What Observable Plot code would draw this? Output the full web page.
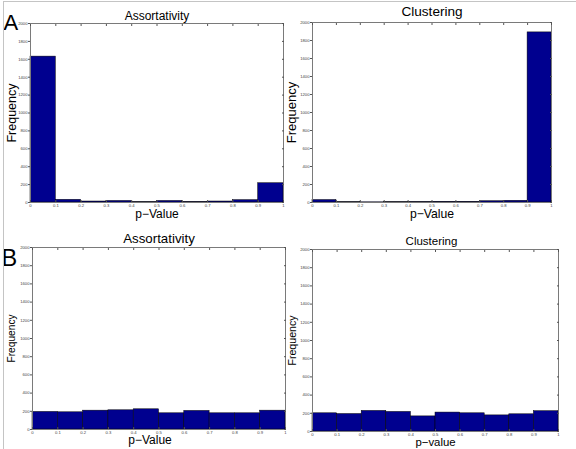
<!DOCTYPE html>
<html>
<head>
<meta charset="utf-8">
<script src="https://cdn.jsdelivr.net/npm/d3@7"></script>
<script src="https://cdn.jsdelivr.net/npm/@observablehq/plot@0.6"></script>
<style>
  html, body { margin: 0; padding: 0; background: #fff; }
  #fig { position: relative; width: 576px; height: 449px; overflow: hidden; background: #fff; }
  #fig > .panel { position: absolute; }
  #border { position: absolute; left: 3px; top: 1px; width: 580px; height: 460px;
            border-top: 1px solid #c4c4c4; border-left: 1px solid #c4c4c4; pointer-events: none; }
</style>
</head>
<body>
<div id="fig"></div>
<script>
// ---- data ----
const binLo = [0, 0.1, 0.2, 0.3, 0.4, 0.5, 0.6, 0.7, 0.8, 0.9];
const binHi = [0.1, 0.2, 0.3, 0.4, 0.5, 0.6, 0.7, 0.8, 0.9, 1];
const xTicks = [0, 0.1, 0.2, 0.3, 0.4, 0.5, 0.6, 0.7, 0.8, 0.9, 1];
const yTicks = [0, 200, 400, 600, 800, 1000, 1200, 1400, 1600, 1800, 2000];

const assortativityA = [1630, 30, 11, 17, 4, 17, 6, 11, 26, 215];
const clusteringA    = [27, 3, 2, 3, 5, 7, 7, 14, 19, 1890];
const assortativityB = [193, 189, 207, 211, 222, 178, 204, 178, 178, 207];
const clusteringB    = [200, 192, 226, 215, 166, 208, 200, 177, 189, 223];

const titles  = ["Assortativity", "Clustering", "Assortativity", "Clustering"];
const xLabels = ["p\u2212Value", "p\u2212Value", "p\u2212Value", "p\u2212value"];
const yLabel  = "Frequency";
const letters = ["A", "B"];

const FONT = "'Liberation Sans', Arial, Helvetica, sans-serif";
const BAR = "#00008f";

function panel(values, o) {
  const rows = values.map((v, i) => ({lo: binLo[i], hi: binHi[i], count: v}));
  const marks = [
    Plot.rectY(rows, {x1: "lo", x2: "hi", y: "count", fill: BAR, stroke: "#000", strokeWidth: 0.5}),
    Plot.frame({stroke: "#7a7a7a", strokeWidth: 1}),
    // tick marks (inward on bottom/top/right, outward on left)
    Plot.axisX({anchor: "bottom", ticks: xTicks, tickSize: -2, tickFormat: () => "", label: null, stroke: "#555"}),
    Plot.axisX({anchor: "top", ticks: xTicks, tickSize: -2, tickFormat: () => "", label: null, stroke: "#555"}),
    Plot.axisY({anchor: "right", ticks: yTicks, tickSize: -2, tickFormat: () => "", label: null, stroke: "#555"}),
    Plot.axisY({anchor: "left", ticks: yTicks, tickSize: 2, tickFormat: () => "", label: null, stroke: "#555"}),
    // tick labels
    Plot.axisX({anchor: "bottom", ticks: xTicks, tickSize: 0, tickPadding: 1.5, fontSize: 4.2,
                tickFormat: d => String(d), label: null, fill: "#444"}),
    Plot.axisY({anchor: "left", ticks: yTicks, tickSize: 0, tickPadding: 3, fontSize: 4.2,
                tickFormat: d => String(d), label: null, fill: "#444"}),
    // title
    Plot.text([o.title], {frameAnchor: "top", text: d => d, lineAnchor: "bottom",
               dy: o.titleDy, dx: o.titleDx || 0, fontSize: o.titleSize, fill: "#000"}),
    // x label
    Plot.text([o.xlabel], {frameAnchor: "bottom", text: d => d, lineAnchor: "bottom",
               dy: o.xDy, dx: o.xDx || 0, fontSize: o.xSize, fill: "#000"}),
    // y label
    Plot.text([yLabel], {frameAnchor: "left", text: d => d, rotate: -90, lineAnchor: "middle",
               textAnchor: "middle", dx: o.yDx, fontSize: o.ySize, fill: "#000"})
  ];
  if (o.letter) {
    marks.push(Plot.text([o.letter], {frameAnchor: "top-left", text: d => d, textAnchor: "start",
               lineAnchor: "bottom", dx: o.letterDx, dy: o.letterDy, fontSize: o.letterSize, fill: "#000"}));
  }
  const svg = Plot.plot({
    width: o.width, height: o.height,
    marginLeft: o.ml, marginRight: o.mr, marginTop: o.mt, marginBottom: o.mb,
    x: {domain: [0, 1]},
    y: {domain: [0, 2000]},
    style: {fontFamily: FONT, background: "transparent"},
    marks
  });
  const wrap = document.createElement("div");
  wrap.className = "panel";
  wrap.style.left = o.left + "px";
  wrap.style.top = o.top + "px";
  wrap.style.width = o.width + "px";
  wrap.style.height = o.height + "px";
  wrap.appendChild(svg);
  return wrap;
}

const fig = document.getElementById("fig");

fig.appendChild(panel(assortativityA, {
  left: 0, top: 0, width: 290, height: 225, ml: 30, mr: 7, mt: 23, mb: 23,
  title: titles[0], titleSize: 12, titleDy: -4,
  xlabel: xLabels[0], xSize: 12, xDy: 15,
  ySize: 12.5, yDx: -18.5,
  letter: letters[0], letterSize: 22, letterDx: -27, letterDy: 6
}));

fig.appendChild(panel(assortativityB, {
  left: 0, top: 225, width: 290, height: 224, ml: 32, mr: 5, mt: 22, mb: 20,
  title: titles[2], titleSize: 13.3, titleDy: -4.7,
  xlabel: xLabels[2], xSize: 12, xDy: 14.5, xDx: -9,
  ySize: 10.2, yDx: -21,
  letter: letters[1], letterSize: 23.5, letterDx: -31, letterDy: 18
}));

fig.appendChild(panel(clusteringA, {
  left: 278, top: 0, width: 298, height: 225, ml: 34, mr: 25, mt: 22, mb: 23,
  title: titles[1], titleSize: 13.6, titleDy: -7,
  xlabel: xLabels[1], xSize: 12.2, xDy: 15,
  ySize: 13, yDx: -21
}));

fig.appendChild(panel(clusteringB, {
  left: 278, top: 225, width: 298, height: 224, ml: 34, mr: 18, mt: 24, mb: 18,
  title: titles[3], titleSize: 11.5, titleDy: -4.7, titleDx: -4,
  xlabel: xLabels[3], xSize: 11.4, xDy: 14,
  ySize: 10.6, yDx: -20
}));

const border = document.createElement("div");
border.id = "border";
fig.appendChild(border);
</script>
</body>
</html>
